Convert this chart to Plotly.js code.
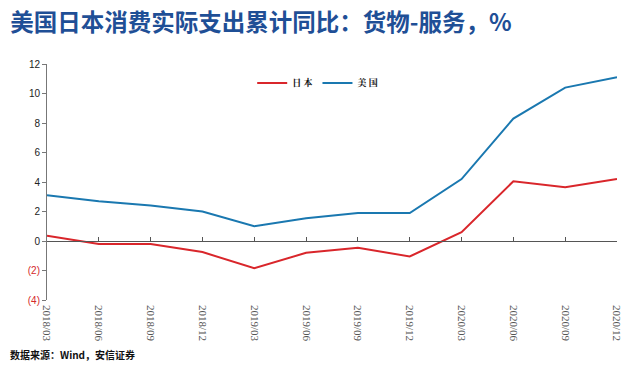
<!DOCTYPE html>
<html><head><meta charset="utf-8">
<script src="https://cdn.plot.ly/plotly-3.0.1.min.js"></script>
<style>html,body{margin:0;padding:0;background:#fff}#c{width:638px;height:376px}</style>
</head><body><div id="c"></div>
<script>
const categories = ['2018/03','2018/06','2018/09','2018/12','2019/03','2019/06','2019/09','2019/12','2020/03','2020/06','2020/09','2020/12'];
const japan = [0.35,-0.2,-0.2,-0.75,-1.85,-0.8,-0.45,-1.05,0.6,4.05,3.65,4.2];
const usa = [3.1,2.7,2.4,2.0,1.0,1.55,1.9,1.9,4.2,8.3,10.4,11.1];
const yTickVals = [-4,-2,0,2,4,6,8,10,12];
const yTickText = ['<span style="color:#d42a2a">(4)</span>','<span style="color:#d42a2a">(2)</span>','0','2','4','6','8','10','12'];

const traces = [
  {x: categories, y: japan, name: '<b>日 本</b>', type: 'scatter', mode: 'lines', line: {color: '#d9262b', width: 2}},
  {x: categories, y: usa, name: '<b>美 国</b>', type: 'scatter', mode: 'lines', line: {color: '#1a78b0', width: 2}},
  {x: categories, y: japan, xaxis: 'x2', type: 'scatter', mode: 'lines', line: {width: 0}, opacity: 0, showlegend: false, hoverinfo: 'skip'}
];
const layout = {
  width: 638, height: 376,
  margin: {l: 47, r: 21, t: 64, b: 76},
  paper_bgcolor: '#fff', plot_bgcolor: '#fff',
  title: {text: '<b>美国日本消费实际支出累计同比：货物-服务，%</b>', x: 0.016, xanchor: 'left', y: 0.94, yanchor: 'middle',
          font: {family: 'Noto Sans CJK SC', size: 23.5, color: '#1f4f96'}},
  xaxis: {type: 'category', range: [0, 11], showline: false, showgrid: false, zeroline: false, ticks: '',
          tickangle: 90, tickfont: {family: 'Liberation Serif', size: 11, color: '#555'}, ticklabelstandoff: 4},
  xaxis2: {type: 'category', matches: 'x', overlaying: 'x', anchor: 'free', position: 0.25, showline: true, linecolor: '#555', linewidth: 1,
           ticks: 'inside', ticklen: 4, tickcolor: '#555', showticklabels: false, showgrid: false, zeroline: false},
  yaxis: {range: [-4, 12], tickvals: yTickVals, ticktext: yTickText, showline: true, linecolor: '#777', linewidth: 1,
          ticks: 'outside', ticklen: 4, tickcolor: '#777', showgrid: false, zeroline: false,
          tickfont: {family: 'Liberation Sans', size: 10, color: '#222'}},
  legend: {orientation: 'h', x: 0.36, xanchor: 'left', y: 0.92, yanchor: 'middle', font: {family: 'Noto Serif CJK SC, Noto Sans CJK SC', size: 9, color: '#111'},
           itemwidth: 30, tracegroupgap: 0, bgcolor: 'rgba(0,0,0,0)'},
  annotations: [{text: '<b>数据来源：Wind，安信证券</b>', xref: 'paper', yref: 'paper', x: -0.068, xanchor: 'left', y: -0.233, yanchor: 'middle',
                 showarrow: false, font: {family: 'Noto Sans CJK SC', size: 10, color: '#111'}}]
};
Plotly.newPlot('c', traces, layout, {displayModeBar: false, staticPlot: true});
</script></body></html>
